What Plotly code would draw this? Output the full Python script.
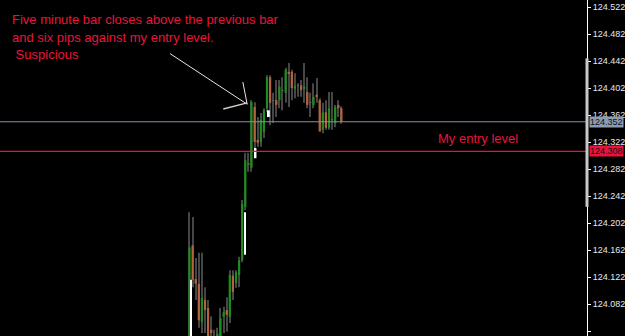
import plotly.graph_objects as go
import numpy as np

# ---------------- data ----------------
opens = [124.021, 124.169, 124.119, 124.112, 124.055, 124.088, 124.076, 124.044, 124.029, 124.032,
         124.029, 124.063, 124.073, 124.063, 124.124, 124.113, 124.125, 124.147, 124.226, 124.288,
         124.284, 124.374, 124.325, 124.322, 124.337, 124.372, 124.418, 124.384, 124.384, 124.384,
         124.399, 124.395, 124.426, 124.426, 124.401, 124.406, 124.406, 124.402, 124.396, 124.381,
         124.377, 124.392, 124.384, 124.340, 124.366, 124.343, 124.355, 124.350, 124.377, 124.372]
highs = [124.218, 124.211, 124.150, 124.158, 124.158, 124.107, 124.088, 124.064, 124.044, 124.047,
         124.076, 124.078, 124.092, 124.132, 124.132, 124.132, 124.152, 124.236, 124.306, 124.306,
         124.384, 124.381, 124.359, 124.365, 124.372, 124.421, 124.421, 124.395, 124.414, 124.414,
         124.418, 124.432, 124.439, 124.429, 124.424, 124.409, 124.414, 124.439, 124.418, 124.395,
         124.409, 124.417, 124.387, 124.380, 124.384, 124.396, 124.396, 124.377, 124.384, 124.375]
lows = [124.014, 124.107, 124.088, 124.047, 124.039, 124.039, 124.021, 124.021, 124.014, 124.017,
        124.021, 124.039, 124.041, 124.054, 124.088, 124.106, 124.107, 124.144, 124.221, 124.278,
        124.278, 124.306, 124.315, 124.315, 124.328, 124.366, 124.347, 124.350, 124.359, 124.372,
        124.369, 124.380, 124.374, 124.384, 124.387, 124.389, 124.389, 124.380, 124.372, 124.359,
        124.372, 124.380, 124.337, 124.335, 124.340, 124.340, 124.340, 124.344, 124.359, 124.349]
closes = [124.166, 124.118, 124.112, 124.058, 124.091, 124.073, 124.029, 124.039, 124.026, 124.038,
          124.061, 124.070, 124.066, 124.125, 124.100, 124.129, 124.147, 124.230, 124.295, 124.291,
          124.381, 124.322, 124.321, 124.355, 124.369, 124.418, 124.380, 124.383, 124.377, 124.404,
          124.398, 124.429, 124.424, 124.402, 124.405, 124.405, 124.399, 124.404, 124.377, 124.380,
          124.389, 124.390, 124.338, 124.366, 124.343, 124.372, 124.356, 124.374, 124.372, 124.352]

# white overlay segments (bar position, top price, bottom price)
white_pos = [0.5, 17.9, 21.3, 25.6]
white_top = [124.118, 124.218, 124.313, 124.369]
white_bot = [124.021, 124.155, 124.298, 124.359]

bid_level = 124.352
entry_level = 124.308
tick_vals = [124.042, 124.082, 124.122, 124.162, 124.202, 124.242, 124.282,
             124.322, 124.362, 124.402, 124.442, 124.482, 124.522]
tick_text = ["%.3f" % v for v in tick_vals]

note_lines = ["Five minute bar closes above the previous bar",
              "and six pips against my entry level.",
              " Suspicious"]
entry_text = "My entry level"

# arrow drawn on chart (bar position, price)
arrow_start = (-6.3, 124.453)
arrow_tip = (18.6, 124.378)
arrow_head1 = (17.2, 124.411)
arrow_head2 = (10.9, 124.371)

# scroll marker on price scale
marker_top, marker_bot = 124.446, 124.226

# ---------------- figure ----------------
GREEN = "#1e8c1e"
ORANGE = "#b4643c"
WICK = "#464646"
RED = "#e8143c"
GRAYLINE = "#8494a8"

o = np.array(opens); h = np.array(highs); l = np.array(lows); c = np.array(closes)
idx = np.arange(len(o))
body_lo = np.minimum(o, c)
body_h = np.maximum(np.abs(c - o), 0.0009)
body_col = [GREEN if cc - oo > 0.0015 else (ORANGE if oo - cc > 0.0015 else "#5e5e5e")
            for oo, cc in zip(o, c)]

fig = go.Figure()
fig.add_trace(go.Bar(x=idx, y=h - l, base=l, width=0.33,
                     marker=dict(color=WICK, line=dict(width=0)), hoverinfo="skip"))
fig.add_trace(go.Bar(x=idx, y=body_h, base=body_lo, width=0.72,
                     marker=dict(color=body_col, line=dict(width=0)), hoverinfo="skip"))
fig.add_trace(go.Bar(x=white_pos, y=np.array(white_top) - np.array(white_bot), base=white_bot,
                     width=0.6, marker=dict(color="#ffffff", line=dict(width=0)), hoverinfo="skip"))

px_per_bar = 3.1
plot_w = 587
x0 = -189.5 / px_per_bar
x1 = x0 + plot_w / px_per_bar
y_top = 124.5324
y_bot = y_top - 336 / 675.0

shapes = [
    dict(type="line", xref="paper", x0=0, x1=1, yref="y", y0=bid_level, y1=bid_level,
         layer="above", line=dict(color=GRAYLINE, width=1)),
    dict(type="line", xref="paper", x0=0, x1=1, yref="y", y0=entry_level, y1=entry_level,
         layer="above", line=dict(color=RED, width=1.2)),
    dict(type="line", xref="x", yref="y", x0=arrow_start[0], y0=arrow_start[1],
         x1=arrow_tip[0], y1=arrow_tip[1], line=dict(color="#e6e6e6", width=1)),
    dict(type="line", xref="x", yref="y", x0=arrow_head1[0], y0=arrow_head1[1],
         x1=arrow_tip[0], y1=arrow_tip[1], line=dict(color="#e6e6e6", width=1)),
    dict(type="line", xref="x", yref="y", x0=arrow_head2[0], y0=arrow_head2[1],
         x1=arrow_tip[0], y1=arrow_tip[1] + 0.002, line=dict(color="#cfcfcf", width=1.5)),
    dict(type="rect", xref="paper", xsizemode="pixel", xanchor=1, x0=-1.5, x1=1.5,
         yref="y", y0=marker_bot, y1=marker_top, fillcolor="#c8c8c8", line=dict(width=0)),
]

annotations = []
ys = [19, 37, 55]
xs = [10, 10, 10]
for t, yy, xx in zip(note_lines, ys, xs):
    annotations.append(dict(text=t, xref="paper", yref="paper", x=xx / plot_w, y=1 - yy / 336,
                            xanchor="left", yanchor="middle", showarrow=False,
                            font=dict(family="Liberation Sans, Arial", size=13, color=RED)))
annotations.append(dict(text=entry_text, xref="paper", yref="y", x=436 / plot_w,
                        y=entry_level + 13 / 675.0, xanchor="left", yanchor="middle",
                        showarrow=False,
                        font=dict(family="Liberation Sans, Arial", size=13, color=RED)))
for lvl, bg in [(bid_level, "#8c9cb0"), (entry_level, RED)]:
    annotations.append(dict(text="%.3f" % lvl, xref="paper", yref="y", x=1, y=lvl,
                            xanchor="left", yanchor="middle", xshift=2, showarrow=False,
                            bgcolor=bg, borderpad=0,
                            font=dict(family="Liberation Sans, Arial", size=9, color="#111111")))

fig.update_layout(
    width=625, height=336,
    margin=dict(l=0, r=625 - plot_w, t=0, b=0),
    paper_bgcolor="#000000", plot_bgcolor="#000000",
    barmode="overlay", showlegend=False,
    xaxis=dict(range=[x0, x1], visible=False, fixedrange=True),
    yaxis=dict(range=[y_bot, y_top], side="right", showgrid=False, zeroline=False,
               showline=True, linecolor="#ffffff", linewidth=1,
               ticks="outside", ticklen=3, tickcolor="#ffffff",
               tickvals=tick_vals, ticktext=tick_text,
               tickfont=dict(family="Liberation Sans, Arial", size=9, color="#e8e8e8")),
    shapes=shapes, annotations=annotations,
)

fig.write_html("out.html")
